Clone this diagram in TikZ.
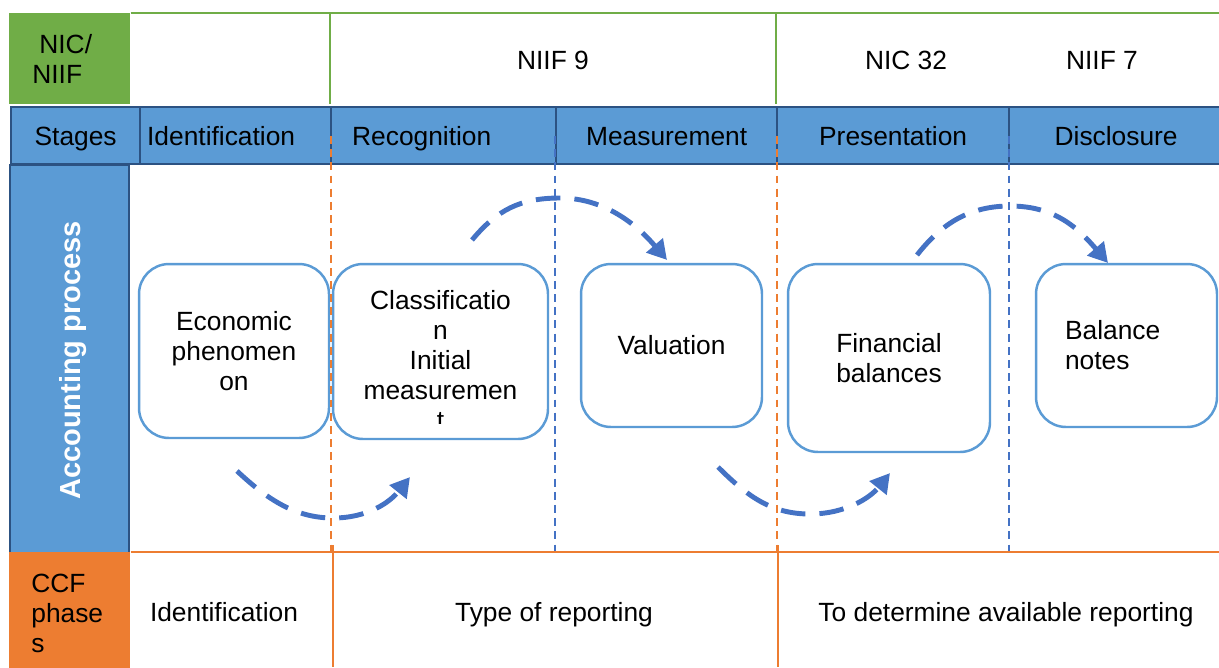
\documentclass[tikz,border=0pt]{standalone}
\usepackage{fontspec}
\setmainfont{Liberation Sans}
\usetikzlibrary{arrows.meta}

\definecolor{nicgreen}{RGB}{112,173,71}
\definecolor{stageblue}{RGB}{91,155,213}
\definecolor{stageedge}{RGB}{44,82,130}
\definecolor{boxblue}{RGB}{91,155,213}
\definecolor{arrowblue}{RGB}{68,114,196}
\definecolor{ccforange}{RGB}{237,125,49}

\begin{document}
\begin{tikzpicture}[x=0.02cm,y=-0.02cm,font=\fontsize{15}{17}\selectfont]
  % Styles
  \tikzset{
    stagecell/.style={draw=stageedge,fill=stageblue,line width=1.3pt,
      anchor=north west,minimum height=1.14cm,inner sep=0pt,
      text height=10.8pt,text depth=0pt},
    procbox/.style={draw=boxblue,fill=white,line width=1.4pt,
      rounded corners=0.6cm,align=center,inner sep=0pt},
    phasetext/.style={text height=10.8pt,text depth=0pt},
    flowarrow/.style={draw=arrowblue,line width=2.8pt,
      dash pattern=on 14pt off 8pt,-{Triangle[length=11pt,width=12pt]}},
    sepdash/.style={draw=#1,line width=0.9pt,dash pattern=on 4.5pt off 3pt},
    greenline/.style={draw=nicgreen,line width=1.2pt},
    ccfline/.style={draw=ccforange,line width=1.3pt}
  }
  \useasboundingbox (0,0) rectangle (1219,667);
  %
  % Standards row
  \node[fill=nicgreen,anchor=north west,minimum height=1.82cm,
    text width=1.5cm,inner xsep=0.46cm,align=left] (nic) at (9,13)
    {\hspace{4pt}NIC/\\NIIF};
  \draw[greenline] (nic.north east) -- (1219,13);
  \draw[greenline] (330,13) -- (330,104);
  \draw[greenline] (776,13) -- (776,104);
  \node[phasetext] (niif9) at (553,60) {NIIF 9};
  \node[phasetext] (nic32) at (906,60) {NIC 32};
  \node[phasetext] (niif7) at (1102,60) {NIIF 7};
  %
  % Stages row
  \node[stagecell,minimum width=2.58cm] (stages) at (10,106) {Stages};
  \node[stagecell,minimum width=3.82cm,text width=3.54cm,inner xsep=0.14cm,
    align=left] (ident) at (139,106) {Identification};
  \node[stagecell,minimum width=4.5cm,text width=3.66cm,inner xsep=0.42cm,
    align=left] (recog) at (330,106) {Recognition};
  \node[stagecell,minimum width=4.42cm] (meas) at (555,106) {Measurement};
  \node[stagecell,minimum width=4.64cm] (pres) at (776,106) {Presentation};
  \node[stagecell,minimum width=4.28cm] (discl) at (1008,106) {Disclosure};
  %
  % Accounting process
  \node[stagecell,anchor=center,rotate=90,minimum width=7.82cm,
    minimum height=2.38cm,text=white,text height=12pt,
    font=\fontsize{16.5}{18}\selectfont\bfseries] (acct) at (69.5,360.5)
    {Accounting process};
  \node[procbox,minimum width=3.8cm,minimum height=3.48cm] (econ)
    at (234,351) {Economic\\phenomen\\on};
  \node[procbox,minimum width=4.3cm,minimum height=3.5cm] (classif)
    at (440.5,351.5) {};
  \node[align=center] (classtext) at (440.5,345)
    {Classificatio\\n\\Initial\\measuremen};
  \begin{scope}
    \clip (420,405) rectangle (460,423);
    \node (classcut) at (440.5,421) {t};
  \end{scope}
  \node[procbox,minimum width=3.62cm,minimum height=3.26cm] (valu)
    at (671.5,345.5) {Valuation};
  \node[procbox,minimum width=4.04cm,minimum height=3.76cm] (finbal)
    at (889,358) {Financial\\balances};
  \node[procbox,minimum height=3.26cm,text width=2.46cm,inner xsep=0.58cm,
    align=left] (notes) at (1126.5,345.5) {Balance\\notes};
  %
  % Flow arrows
  \coordinate (a1s) at (237,471);
  \coordinate (a1m) at (333,518);
  \coordinate (a1e) at (410,477);
  \coordinate (a2s) at (472,240);
  \coordinate (a2m) at (560,198);
  \coordinate (a2e) at (667,260);
  \coordinate (a3s) at (718,467);
  \coordinate (a3m) at (810,514);
  \coordinate (a3e) at (890,473);
  \coordinate (a4s) at (917,255);
  \coordinate (a4m) at (1010,206);
  \coordinate (a4e) at (1108,263);
  \draw[flowarrow] (a1s) .. controls +(30,28) and +(-38,0) .. (a1m)
    .. controls +(35,0) and +(-20,25) .. (a1e);
  \draw[flowarrow] (a2s) .. controls +(25,-30) and +(-40,0) .. (a2m)
    .. controls +(45,0) and +(-30,-35) .. (a2e);
  \draw[flowarrow] (a3s) .. controls +(30,30) and +(-38,0) .. (a3m)
    .. controls +(35,0) and +(-20,25) .. (a3e);
  \draw[flowarrow] (a4s) .. controls +(25,-32) and +(-40,0) .. (a4m)
    .. controls +(45,0) and +(-30,-35) .. (a4e);
  %
  % Phase separators
  \draw[sepdash=ccforange] (331,136) -- (331,556);
  \draw[sepdash=arrowblue] (555,136) -- (555,556);
  \draw[sepdash=ccforange] (777,136) -- (777,556);
  \draw[sepdash=arrowblue] (1009,136) -- (1009,556);
  %
  % CCF row
  \node[fill=ccforange,anchor=north west,minimum height=2.44cm,
    text width=1.54cm,inner xsep=0.44cm,inner ysep=0pt,align=left] (ccf)
    at (9,552) {CCF\\phase\\s};
  \draw[ccfline] (ccf.north east) -- (1219,552);
  \draw[ccfline] (333,545) -- (333,667);
  \draw[ccfline] (778,545) -- (778,667);
  \node[phasetext] (phaseA) at (224,612) {Identification};
  \node[phasetext] (phaseB) at (554,612) {Type of reporting};
  \node[phasetext] (phaseC) at (1006,612) {To determine available reporting};
  %
\end{tikzpicture}
\end{document}
